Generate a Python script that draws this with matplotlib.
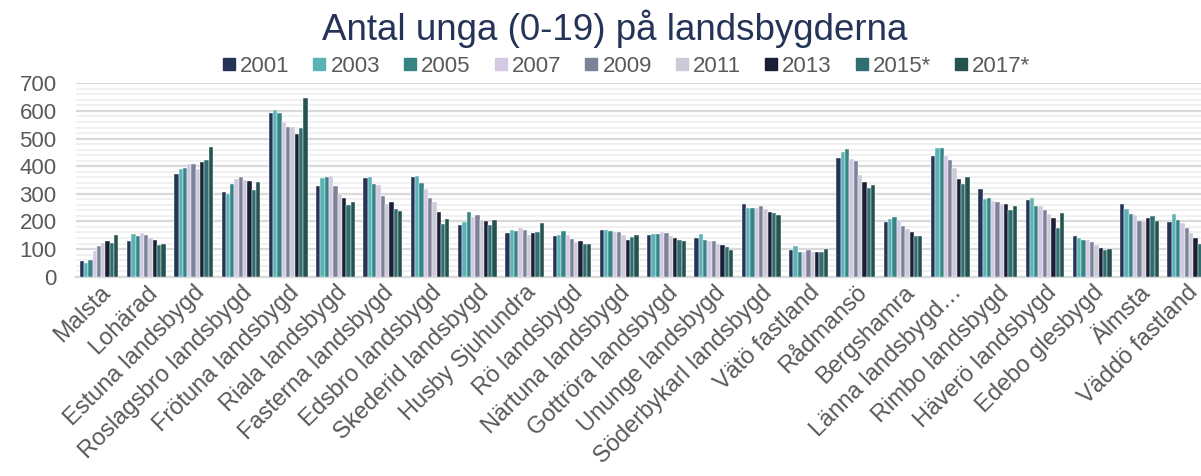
import numpy as np
import matplotlib
matplotlib.use("Agg")
import matplotlib.pyplot as plt
from matplotlib.lines import Line2D
from matplotlib.ticker import MultipleLocator

plt.rcParams["font.family"] = ["Liberation Sans", "DejaVu Sans"]

# data
places = ["Malsta", "Lohärad", "Estuna landsbygd", "Roslagsbro landsbygd",
          "Frötuna landsbygd", "Riala landsbygd", "Fasterna landsbygd",
          "Edsbro landsbygd", "Skederid landsbygd", "Husby Sjuhundra",
          "Rö landsbygd", "Närtuna landsbygd", "Gottröra landsbygd",
          "Ununge landsbygd", "Söderbykarl landsbygd", "Vätö fastland",
          "Rådmansö", "Bergshamra", "Länna landsbygd…", "Rimbo landsbygd",
          "Häverö landsbygd", "Edebo glesbygd", "Älmsta", "Väddö fastland"]
years = ["2001", "2003", "2005", "2007", "2009", "2011", "2013", "2015*", "2017*"]

y2001 = [57, 129, 372, 307, 594, 328, 358, 360, 187, 159, 147, 169, 150, 141, 262, 97, 428, 198, 437, 317, 276, 146, 263, 199]
y2003 = [51, 156, 391, 300, 605, 358, 361, 363, 199, 168, 150, 168, 156, 156, 249, 112, 451, 208, 465, 282, 284, 141, 245, 227]
y2005 = [60, 147, 393, 334, 593, 360, 337, 340, 234, 167, 165, 165, 156, 133, 249, 91, 461, 216, 467, 285, 257, 133, 228, 205]
y2007 = [94, 159, 408, 352, 560, 364, 333, 319, 217, 176, 151, 160, 160, 130, 249, 91, 425, 204, 437, 273, 257, 133, 223, 196]
y2009 = [110, 151, 407, 361, 542, 328, 293, 285, 223, 168, 136, 160, 159, 130, 256, 97, 419, 183, 422, 269, 240, 127, 203, 176]
y2011 = [123, 141, 391, 351, 542, 299, 263, 272, 205, 151, 124, 150, 147, 119, 245, 91, 368, 173, 395, 262, 227, 115, 203, 159]
y2013 = [129, 133, 415, 346, 518, 285, 272, 233, 203, 157, 128, 134, 139, 116, 233, 88, 343, 160, 354, 262, 212, 103, 212, 141]
y2015 = [121, 115, 424, 315, 537, 258, 244, 192, 187, 163, 119, 145, 133, 106, 231, 89, 320, 148, 336, 240, 177, 98, 220, 118]
y2017 = [152, 119, 471, 343, 646, 269, 239, 208, 206, 194, 119, 151, 129, 97, 223, 99, 332, 148, 360, 256, 229, 99, 203, 115]
series = [y2001, y2003, y2005, y2007, y2009, y2011, y2013, y2015, y2017]

colors = ["#253356", "#5bb3b5", "#368584", "#d4c8e2", "#7d8299",
          "#cccad6", "#1a1f36", "#306e70", "#24534f"]

fig = plt.figure(figsize=(12.01, 4.76), dpi=100)
ax = fig.add_axes([0.0633, 0.4187, 0.9367, 0.4063])

x = np.arange(len(places))
w = 0.82 / len(years)
for i, vals in enumerate(series):
    ax.bar(x - 0.41 + w * (i + 0.5), vals, width=w, color=colors[i],
           edgecolor="white", linewidth=0.3, zorder=3)

ax.set_xlim(-0.486, 23.3)
ax.set_ylim(0, 700)
ax.yaxis.set_major_locator(MultipleLocator(100))
ax.yaxis.set_minor_locator(MultipleLocator(20))
ax.grid(axis="y", which="major", color="#d9d9d9", linewidth=1.6, zorder=0)
ax.grid(axis="y", which="minor", color="#f0f0f0", linewidth=1.4, zorder=0)
for s in ["top", "right", "left"]:
    ax.spines[s].set_visible(False)
ax.spines["bottom"].set_color("#d9d9d9")
ax.spines["bottom"].set_linewidth(1.6)
ax.tick_params(axis="both", which="both", length=0, colors="#595959", labelsize=16)
ax.tick_params(axis="y", pad=14)
ax.tick_params(axis="x", labelsize=17)
ax.set_xticks(x)
ax.set_xticklabels(places, rotation=45, ha="right", rotation_mode="anchor")

fig.text(0.512, 0.94, "Antal unga (0-19) på landsbygderna", ha="center", va="center",
         fontsize=26.5, color="#243357")

handles = [Line2D([], [], marker="s", linestyle="none", markersize=9,
                  markerfacecolor=c, markeredgecolor=c) for c in colors]
fig.legend(handles, years, loc="center", bbox_to_anchor=(0.521, 0.86), ncol=9,
           frameon=False, fontsize=16, handlelength=0.7, handletextpad=0.15,
           columnspacing=1.0, labelcolor="#595959", borderaxespad=0)

fig.savefig("out.png", dpi=100)
